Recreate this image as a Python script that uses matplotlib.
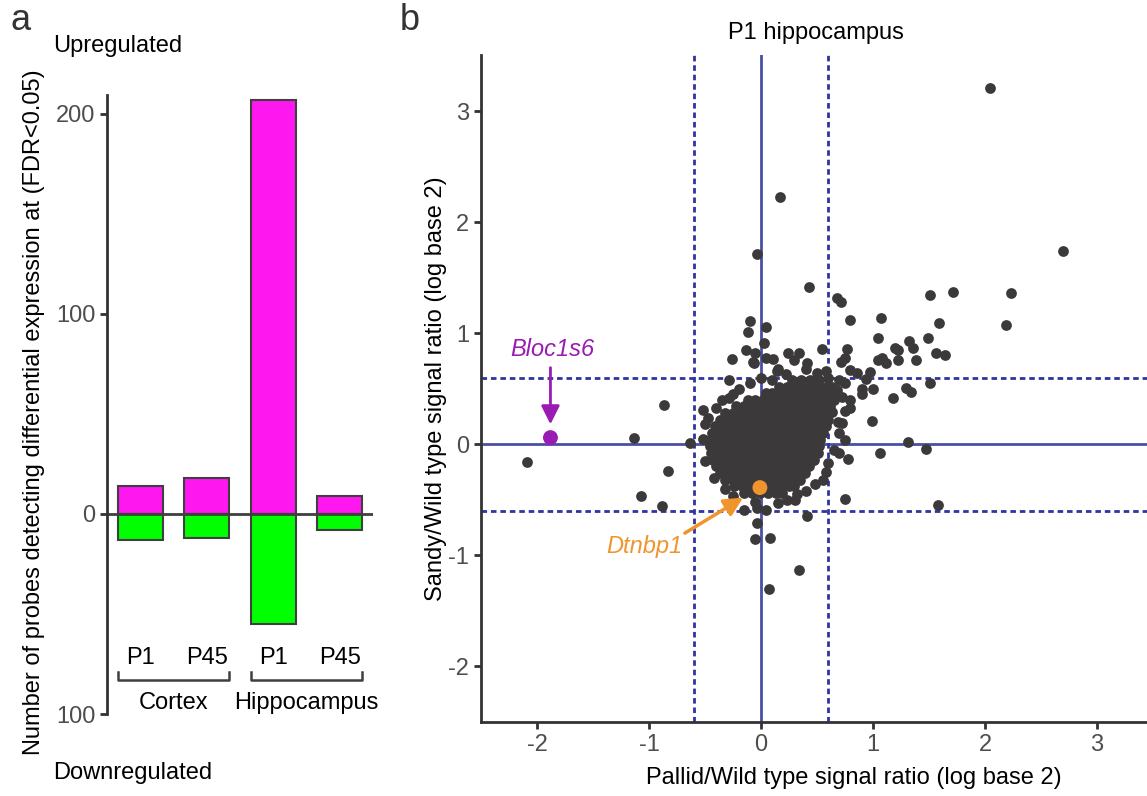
import matplotlib
matplotlib.use("Agg")
import matplotlib.pyplot as plt

plt.rcParams['font.family'] = ['Liberation Sans', 'DejaVu Sans']
plt.rcParams['axes.unicode_minus'] = False

# ---------------- panel a data ----------------
bar_labels = ['P1', 'P45', 'P1', 'P45']
groups = ['Cortex', 'Hippocampus']
up_counts = [14, 18, 207, 9]
down_counts = [13, 12, 55, 8]

# ---------------- panel b data ----------------
# scattered probes (pallid ratio, sandy ratio)
out_x = [2.04, 0.17, -0.04, 0.43, 0.68, 0.71, 2.70, 1.51, 1.71, 2.23, 2.19, 1.59, 1.49, 1.07, 0.79,
         1.04, 1.20, 1.22, 1.32, 1.36, 1.56, 1.64, 1.38, 1.22, 1.12, 1.04, 1.08, 0.77, 0.75, 0.71,
         0.54, 0.41, 0.24, 0.34, 0.04, 0.03, -0.05, -0.06, -0.10, -0.12, 1.51, 1.29, 1.34, 1.18, 1.00,
         0.99, 1.31, 1.47, 1.06, 0.78, 0.90, 0.90, 0.94, 0.97, 0.86, 0.79, 0.79, 0.79, 0.69, 0.75,
         0.63, 0.68, 0.72, -0.26, 0.04, 0.11, 0.29, -0.87, -0.83, -0.63, -0.52, -0.47, -0.29, -0.29,
         0.14, 0.15, 0.60, -1.07, -0.88, -0.15, -0.04, 0.04, -0.04, -0.05, 0.08, 0.34, 0.07, 0.41,
         0.32, 0.23, 0.75, -2.09, -1.13, 1.58, -0.13, -0.07, -0.20, -0.25, -0.35, -0.40, -0.10, 0.00,
         0.10, 0.22, 0.40, 0.50, 0.60, 0.58, 0.70, 0.75, 0.72, 0.75, 0.70, 0.65, 0.58, 0.55, 0.48,
         0.40, 0.30, 0.15, -0.05, -0.25, -0.32, -0.42, -0.50, -0.52, -0.50, 0.70]
out_y = [3.21, 2.23, 1.71, 1.42, 1.32, 1.28, 1.74, 1.34, 1.37, 1.36, 1.07, 1.09, 0.96, 1.14, 1.12,
         0.96, 0.87, 0.85, 0.93, 0.87, 0.82, 0.80, 0.76, 0.76, 0.73, 0.76, 0.78, 0.86, 0.78, 0.74,
         0.86, 0.73, 0.82, 0.82, 1.06, 0.91, 0.82, 0.73, 1.11, 1.01, 0.55, 0.51, 0.47, 0.42, 0.50,
         0.21, 0.02, -0.04, -0.08, -0.13, 0.50, 0.45, 0.59, 0.65, 0.64, 0.67, 0.40, 0.33, 0.20, 0.04,
         0.29, 0.49, 0.19, 0.77, 0.78, 0.77, 0.76, 0.35, -0.24, 0.01, 0.31, 0.24, 0.58, 0.42,
         0.66, 0.68, -0.17, -0.47, -0.56, -0.59, -0.57, -0.59, -0.71, -0.85, -0.84, -1.13, -1.30, -0.65,
         -0.45, -0.50, -0.49, -0.16, 0.06, -0.55, 0.85, 0.74, 0.50, 0.45, 0.40, 0.33, 0.55, 0.60,
         0.58, 0.63, 0.68, 0.64, 0.60, 0.66, 0.58, 0.55, 0.43, 0.30, 0.10, -0.05, -0.25, -0.32, -0.36,
         -0.42, -0.50, -0.53, -0.52, -0.47, -0.40, -0.30, -0.15, 0.05, 0.18, -0.08]

# dense core of probes, read row by row
blob_y = [0.58, 0.52, 0.46, 0.40, 0.34, 0.28, 0.22, 0.16, 0.10, 0.04, -0.02, -0.08, -0.14, -0.20,
          -0.26, -0.32, -0.38, -0.44]
blob_x = [
    [0.28, 0.36, 0.44, 0.52],
    [0.16, 0.23, 0.30, 0.37, 0.44, 0.51, 0.58, 0.63],
    [0.04, 0.10, 0.17, 0.24, 0.31, 0.38, 0.45, 0.52, 0.59, 0.65],
    [-0.12, -0.05, 0.02, 0.09, 0.16, 0.23, 0.30, 0.37, 0.44, 0.51, 0.58, 0.65],
    [-0.22, -0.15, -0.08, -0.01, 0.06, 0.13, 0.20, 0.27, 0.34, 0.41, 0.48, 0.55, 0.62],
    [-0.32, -0.25, -0.18, -0.11, -0.04, 0.03, 0.10, 0.17, 0.24, 0.31, 0.38, 0.45, 0.52, 0.60],
    [-0.37, -0.30, -0.23, -0.16, -0.09, -0.02, 0.05, 0.12, 0.19, 0.26, 0.33, 0.40, 0.47, 0.54, 0.60],
    [-0.41, -0.34, -0.27, -0.20, -0.13, -0.06, 0.01, 0.08, 0.15, 0.22, 0.29, 0.36, 0.43, 0.50, 0.58],
    [-0.44, -0.37, -0.30, -0.23, -0.16, -0.09, -0.02, 0.05, 0.12, 0.19, 0.26, 0.33, 0.40, 0.47, 0.55],
    [-0.46, -0.39, -0.32, -0.25, -0.18, -0.11, -0.04, 0.03, 0.10, 0.17, 0.24, 0.31, 0.38, 0.45, 0.53],
    [-0.46, -0.39, -0.32, -0.25, -0.18, -0.11, -0.04, 0.03, 0.10, 0.17, 0.24, 0.31, 0.38, 0.45, 0.52],
    [-0.45, -0.38, -0.31, -0.24, -0.17, -0.10, -0.03, 0.04, 0.11, 0.18, 0.25, 0.32, 0.39, 0.46, 0.51],
    [-0.43, -0.36, -0.29, -0.22, -0.15, -0.08, -0.01, 0.06, 0.13, 0.20, 0.27, 0.34, 0.41, 0.47],
    [-0.40, -0.33, -0.26, -0.19, -0.12, -0.05, 0.02, 0.09, 0.16, 0.23, 0.30, 0.37, 0.43],
    [-0.37, -0.30, -0.23, -0.16, -0.09, -0.02, 0.05, 0.12, 0.19, 0.26, 0.33, 0.39],
    [-0.32, -0.25, -0.18, -0.11, -0.04, 0.03, 0.10, 0.17, 0.24, 0.31, 0.35],
    [-0.24, -0.17, -0.10, -0.03, 0.04, 0.11, 0.18, 0.25, 0.29],
    [-0.15, -0.08, -0.01, 0.06, 0.13, 0.19],
]

genes = ['Bloc1s6', 'Dtnbp1']
gene_x = [-1.88, -0.01]
gene_y = [0.06, -0.39]
gene_colors = ['#9a1bb3', '#f0952d']

# ---------------- style ----------------
fs = 17
spine_color = '#333333'
tick_color = '#4d4d4d'
magenta = '#ff17ef'
green = '#00ff00'
point_color = '#3b393a'
line_color = '#4a4fa6'
dash_color = '#2f34a0'

fig = plt.figure(figsize=(11.47, 7.96), dpi=100)

# ================= panel a =================
ax1 = fig.add_axes([0.0933, 0.1030, 0.2319, 0.7777])
pos = [1, 2, 3, 4]
ax1.bar(pos, up_counts, width=0.68, color=magenta, edgecolor='#3f3f3f', linewidth=1.5)
ax1.bar(pos, [-d for d in down_counts], width=0.68, color=green, edgecolor='#3f3f3f', linewidth=1.5)
ax1.axhline(0, color='#3f3f3f', linewidth=2)
ax1.set_xlim(0.5, 4.5)
ax1.set_ylim(-100, 209.5)
for s in ['top', 'right', 'bottom']:
    ax1.spines[s].set_visible(False)
ax1.spines['left'].set_color(spine_color)
ax1.spines['left'].set_linewidth(2)
ax1.set_xticks([])
ax1.set_yticks([200, 100, 0, -100])
ax1.set_yticklabels(['200', '100', '0', '100'])
ax1.tick_params(axis='y', colors=spine_color, labelcolor=tick_color, labelsize=fs,
                length=5, width=2, direction='out')
ax1.set_ylabel('Number of probes detecting differential expression at (FDR<0.05)', fontsize=fs)
ax1.yaxis.set_label_coords(-0.235, 0.488)

for p, lab in zip(pos, bar_labels):
    ax1.text(p, -72, lab, ha='center', va='center', fontsize=fs, clip_on=False)
for g, (a, b) in zip(groups, [(1, 2), (3, 4)]):
    x0, x1 = a - 0.34, b + 0.34
    ax1.plot([x0, x0, x1, x1], [-79, -83, -83, -79], color='#3f3f3f', lw=1.8, clip_on=False)
    ax1.text((x0 + x1) / 2, -94.5, g, ha='center', va='center', fontsize=fs, clip_on=False)

fig.text(53 / 1147, 1 - 46 / 796, 'Upregulated', fontsize=fs, ha='left', va='center')
fig.text(53 / 1147, 1 - 773 / 796, 'Downregulated', fontsize=fs, ha='left', va='center')
fig.text(10 / 1147, 1 - 20 / 796, 'a', fontsize=26, ha='left', va='center', color='#333333')
fig.text(400 / 1147, 1 - 20 / 796, 'b', fontsize=26, ha='left', va='center', color='#333333')

# ================= panel b =================
ax2 = fig.add_axes([481 / 1147, 0.0930, (1227 - 481) / 1147, 0.8373])
ax2.set_xlim(-2.5, 4.16)
ax2.set_ylim(-2.5, 3.5)

ax2.axhline(0, color=line_color, lw=2, zorder=1)
ax2.axvline(0, color=line_color, lw=2, zorder=1)
for v in [-0.6, 0.6]:
    ax2.axhline(v, color=dash_color, lw=2, ls=(0, (2, 1.4)), zorder=1)
    ax2.axvline(v, color=dash_color, lw=2, ls=(0, (2, 1.4)), zorder=1)

bx, by = [], []
for yv, row in zip(blob_y, blob_x):
    for xv in row:
        bx.append(xv)
        by.append(yv)
ax2.scatter(out_x + bx, out_y + by, s=60, color=point_color, linewidths=0, zorder=3)

ax2.scatter(gene_x, gene_y, s=115, color=gene_colors, linewidths=0, zorder=4)
ax2.annotate('', xy=(-1.88, 0.18), xytext=(-1.88, 0.69),
             arrowprops=dict(arrowstyle='-|>', color=gene_colors[0], lw=2,
                             mutation_scale=28, shrinkA=0, shrinkB=0))
ax2.text(-1.86, 0.85, genes[0], color=gene_colors[0], style='italic', fontsize=fs,
         ha='center', va='center')
ax2.annotate('', xy=(-0.16, -0.48), xytext=(-0.68, -0.80),
             arrowprops=dict(arrowstyle='-|>', color=gene_colors[1], lw=2.5,
                             mutation_scale=28, shrinkA=0, shrinkB=0))
ax2.text(-1.04, -0.92, genes[1], color=gene_colors[1], style='italic', fontsize=fs,
         ha='center', va='center')

for s in ['top', 'right']:
    ax2.spines[s].set_visible(False)
for s in ['left', 'bottom']:
    ax2.spines[s].set_color(spine_color)
    ax2.spines[s].set_linewidth(2)
ax2.set_xticks([-2, -1, 0, 1, 2, 3])
ax2.set_yticks([-2, -1, 0, 1, 2, 3])
ax2.tick_params(colors=spine_color, labelcolor=tick_color, labelsize=fs,
                length=5, width=2, direction='out')
ax2.set_xlabel('Pallid/Wild type signal ratio (log base 2)', fontsize=fs, labelpad=8)
ax2.set_ylabel('Sandy/Wild type signal ratio (log base 2)', fontsize=fs, labelpad=1)
fig.text(816 / 1147, 1 - 33 / 796, 'P1 hippocampus', fontsize=fs, ha='center', va='center')

fig.savefig('out.png', dpi=100)
